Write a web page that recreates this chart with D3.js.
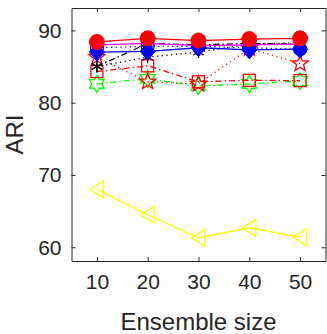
<!DOCTYPE html>
<html><head><meta charset="utf-8">
<script src="https://cdn.jsdelivr.net/npm/d3@7"></script>
<style>body{margin:0;background:#fff;}svg{display:block;font-family:"Liberation Sans",Arial,sans-serif;}</style>
</head><body><svg id="c" width="327" height="334"></svg>
<script>
const ensembleSizes = [10, 20, 30, 40, 50];
const xTicks = [10, 20, 30, 40, 50];
const yTicks = [60, 70, 80, 90];
const yellowTri = [68.0, 64.5, 61.3, 62.7, 61.4];
const greenHex = [82.6, 83.3, 82.3, 82.6, 83.0];
const redStar = [86.3, 82.9, 82.6, 87.5, 85.4];
const redSquare = [84.3, 85.1, 82.9, 83.1, 83.05];
const blackDot = [85.0, 86.3, 87.0, 88.1, 88.3];
const blackDashDot = [85.0, 88.2, 88.0, 88.2, 88.1];
const blueDotCircle = [87.6, 87.8, 87.8, 87.6, 87.4];
const magentaLine = [88.0, 88.2, 87.9, 88.0, 88.1];
const blueDiamond = [87.0, 87.1, 87.6, 87.3, 87.4];
const redCircle = [88.4, 88.9, 88.6, 88.8, 88.9];

const styles = [
  {v: yellowTri, c: "#ffff00", dash: null, m: "triL"},
  {v: greenHex, c: "#00ff00", dash: "6,3,1.5,3", m: "hex"},
  {v: redStar, c: "#ff0000", dash: "1.2,3.5", m: "pent"},
  {v: redSquare, c: "#ff0000", dash: "6,3,1.5,3", m: "sq"},
  {v: blackDot, c: "#000000", dash: "1.2,3.5", m: "ast"},
  {v: blackDashDot, c: "#000000", dash: "6,3,1.5,3", m: "ast"},
  {v: blueDotCircle, c: "#0000ff", dash: "1.2,3.5", m: "ocirc"},
  {v: magentaLine, c: "#ff00ff", dash: null, m: "triU"},
  {v: blueDiamond, c: "#0000ff", dash: null, m: "dia"},
  {v: redCircle, c: "#ff0000", dash: null, m: "fcirc"}
];

const L = 71.5, R = 325.5, T = 8, B = 261;
const x = d3.scaleLinear().domain([5, 55]).range([L, R]);
const y = d3.scaleLinear().domain([58.1, 93.1]).range([B, T]);
const svg = d3.select("#c");
const axCol = "#262626";

svg.append("defs").append("clipPath").attr("id","clp").append("rect")
  .attr("x", L).attr("y", T).attr("width", R-L).attr("height", B-T);

const axL = d3.axisLeft(y).tickValues(yTicks).tickSizeInner(-4).tickSizeOuter(0).tickPadding(10);
const axB = d3.axisBottom(x).tickValues(xTicks).tickSizeInner(-4).tickSizeOuter(0).tickPadding(13);
const axR = d3.axisRight(y).tickValues(yTicks).tickSizeInner(-4).tickSizeOuter(0).tickFormat("");
const axT = d3.axisTop(x).tickValues(xTicks).tickSizeInner(-4).tickSizeOuter(0).tickFormat("");

function styleAx(g){
  g.selectAll("path").attr("stroke", axCol).attr("stroke-width", 1);
  g.selectAll("line").attr("stroke", axCol).attr("stroke-width", 1);
  g.selectAll("text").attr("fill", axCol).style("font-size", "21px").style("font-family","\"Liberation Sans\",Arial,sans-serif");
}
svg.append("g").attr("transform", `translate(${L},0)`).call(axL).call(styleAx);
svg.append("g").attr("transform", `translate(0,${B})`).call(axB).call(styleAx);
svg.append("g").attr("transform", `translate(${R},0)`).call(axR).call(styleAx);
svg.append("g").attr("transform", `translate(0,${T})`).call(axT).call(styleAx);

const line = d3.line().x((d,i)=>x(ensembleSizes[i])).y(d=>y(d));

function star(n, ro, ri){
  let p = [];
  for (let k=0;k<2*n;k++){
    const r = k%2===0 ? ro : ri;
    const a = -Math.PI/2 + k*Math.PI/n;
    p.push([r*Math.cos(a), r*Math.sin(a)]);
  }
  return "M" + p.map(q=>q[0].toFixed(2)+","+q[1].toFixed(2)).join("L") + "Z";
}

const plot = svg.append("g").attr("clip-path","url(#clp)");

styles.forEach(s => {
  plot.append("path").datum(s.v).attr("d", line)
    .attr("fill","none").attr("stroke", s.c).attr("stroke-width", 1.3)
    .attr("stroke-dasharray", s.dash);
  const g = plot.append("g");
  s.v.forEach((v,i) => {
    const cx = x(ensembleSizes[i]), cy = y(v);
    const mg = g.append("g").attr("transform", `translate(${cx},${cy})`);
    switch (s.m) {
      case "fcirc": mg.append("circle").attr("r", 7.5).attr("fill", s.c).attr("stroke", s.c); break;
      case "ocirc": mg.append("circle").attr("r", 6.5).attr("fill", "none").attr("stroke", s.c).attr("stroke-width",1.3); break;
      case "dia": mg.append("path").attr("d","M0,-9L7.5,0L0,9L-7.5,0Z").attr("fill", s.c).attr("stroke", s.c); break;
      case "sq": mg.append("rect").attr("x",-6).attr("y",-6).attr("width",12).attr("height",12).attr("fill","none").attr("stroke", s.c).attr("stroke-width",1.3); break;
      case "hex": mg.append("path").attr("d", star(6, 8.5, 5)).attr("fill","none").attr("stroke", s.c).attr("stroke-width",1.3); break;
      case "pent": mg.append("path").attr("d", star(5, 8.5, 3.6)).attr("fill","none").attr("stroke", s.c).attr("stroke-width",1.3); break;
      case "triL": mg.append("path").attr("d","M-7,0L6.5,-8.5L6.5,8.5Z").attr("fill","none").attr("stroke", s.c).attr("stroke-width",1.3); break;
      case "triU": mg.append("path").attr("d","M0,-4L3.5,2.5L-3.5,2.5Z").attr("fill","none").attr("stroke", s.c).attr("stroke-width",1.2); break;
      case "ast":
        [[0,-6,0,6],[-5.2,-3,5.2,3],[-5.2,3,5.2,-3]].forEach(l => mg.append("line")
          .attr("x1",l[0]).attr("y1",l[1]).attr("x2",l[2]).attr("y2",l[3]).attr("stroke", s.c).attr("stroke-width",1.2));
        break;
    }
  });
});

svg.append("text").attr("x", (L+R)/2).attr("y", 330).attr("text-anchor","middle")
  .attr("fill", axCol).style("font-size","24px").text("Ensemble size");
svg.append("text").attr("transform", `translate(${23},${(T+B)/2}) rotate(-90)`).attr("text-anchor","middle")
  .attr("fill", axCol).style("font-size","24px").text("ARI");
</script></body></html>
